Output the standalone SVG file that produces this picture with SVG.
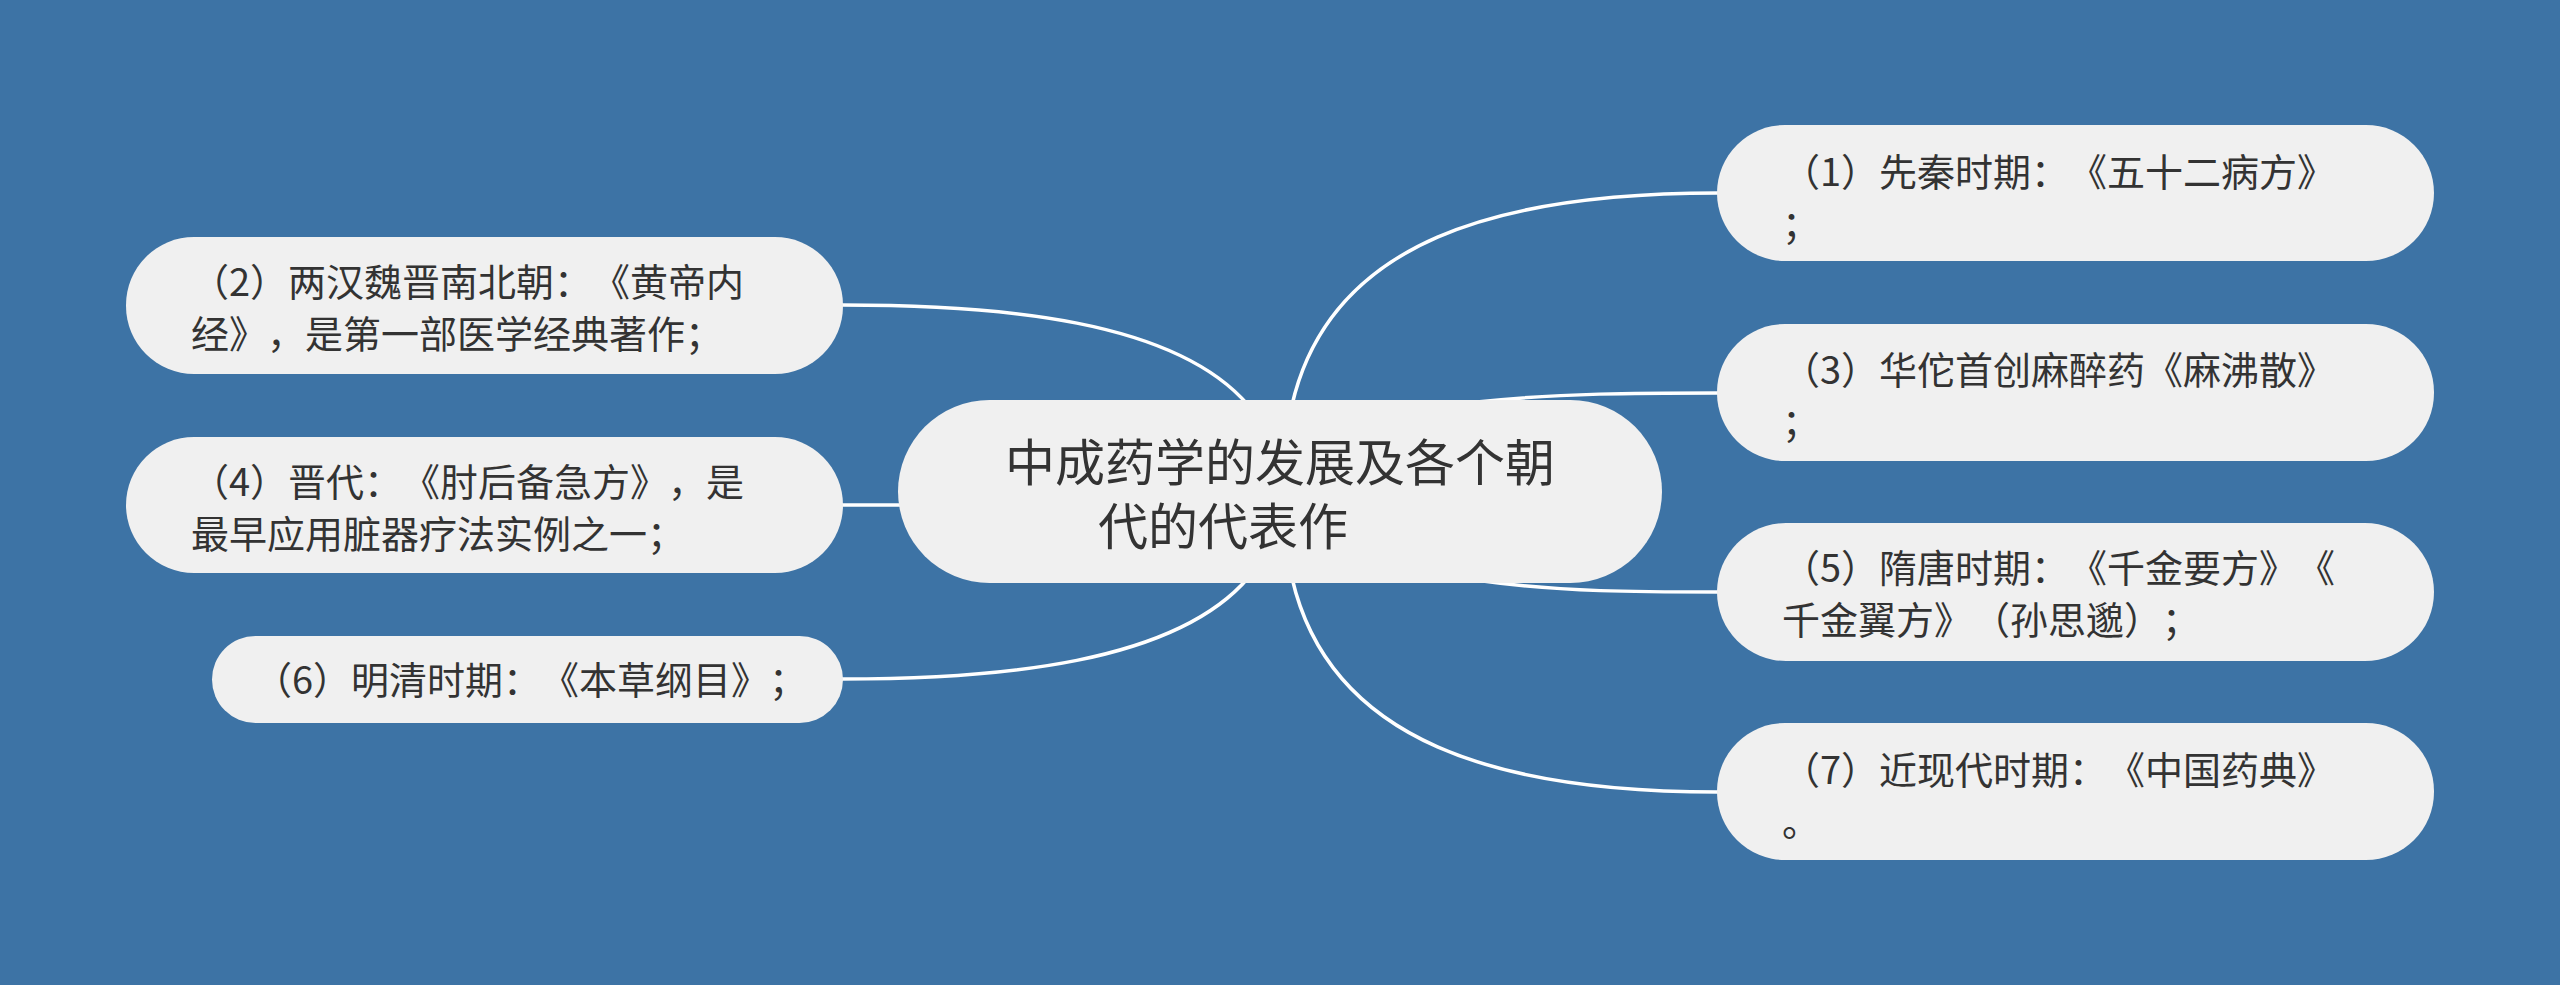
<svg xmlns="http://www.w3.org/2000/svg" width="2560" height="985" viewBox="0 0 2560 985">
<style>
.node{fill:#f0f0f0;}
text{text-spacing-trim:space-all;font-kerning:none;}
.t{font-family:"Noto Sans CJK SC","Noto Sans",sans-serif;font-size:38px;fill:#333333;}
.tc{font-family:"Noto Sans CJK SC","Noto Sans",sans-serif;font-size:50px;fill:#333333;}
.edge{fill:none;stroke:#ffffff;stroke-width:3.5;}
</style>
<rect x="0" y="0" width="2560" height="985" fill="#3d73a5"/>
<g id="connectors">
<path class="edge" d="M1292,405 C1330,240 1500,193 1718,193"/>
<path class="edge" d="M1477,402 C1560,393 1640,393 1718,393"/>
<path class="edge" d="M1483,581 C1560,592 1640,592 1718,592"/>
<path class="edge" d="M1292,578 C1330,743 1500,792 1718,792"/>
<path class="edge" d="M1248,405 C1175,320 1000,305 842,305"/>
<path class="edge" d="M900,505 L842,505"/>
<path class="edge" d="M1248,578 C1175,663 1000,679 842,679"/>
</g>
<g id="center">
<rect class="node" x="898" y="400" width="764" height="183" rx="91.5"/>
<text class="tc"><tspan x="1005" y="481">中成药学的发展及各个朝</tspan><tspan x="1098" y="545">代的代表作</tspan></text>
</g>
<g id="n1">
<rect class="node" x="1717" y="125" width="717" height="136" rx="68"/>
<text class="t"><tspan x="1782" y="186">（1）先秦时期：《五十二病方》</tspan><tspan x="1782" y="238">；</tspan></text>
</g>
<g id="n2">
<rect class="node" x="126" y="237" width="717" height="137" rx="68"/>
<text class="t"><tspan x="191" y="296">（2）两汉魏晋南北朝：《黄帝内</tspan><tspan x="191" y="348">经》，是第一部医学经典著作；</tspan></text>
</g>
<g id="n3">
<rect class="node" x="1717" y="324" width="717" height="137" rx="68"/>
<text class="t"><tspan x="1782" y="384">（3）华佗首创麻醉药《麻沸散》</tspan><tspan x="1782" y="436">；</tspan></text>
</g>
<g id="n4">
<rect class="node" x="126" y="437" width="717" height="136" rx="68"/>
<text class="t"><tspan x="191" y="496">（4）晋代：《肘后备急方》，是</tspan><tspan x="191" y="548">最早应用脏器疗法实例之一；</tspan></text>
</g>
<g id="n5">
<rect class="node" x="1717" y="523" width="717" height="138" rx="69"/>
<text class="t"><tspan x="1782" y="582">（5）隋唐时期：《千金要方》《</tspan><tspan x="1782" y="634">千金翼方》（孙思邈）；</tspan></text>
</g>
<g id="n6">
<rect class="node" x="212" y="636" width="631" height="87" rx="43.5"/>
<text class="t" x="254" y="694">（6）明清时期：《本草纲目》；</text>
</g>
<g id="n7">
<rect class="node" x="1717" y="723" width="717" height="137" rx="68"/>
<text class="t"><tspan x="1782" y="784">（7）近现代时期：《中国药典》</tspan><tspan x="1782" y="836">。</tspan></text>
</g>
</svg>
